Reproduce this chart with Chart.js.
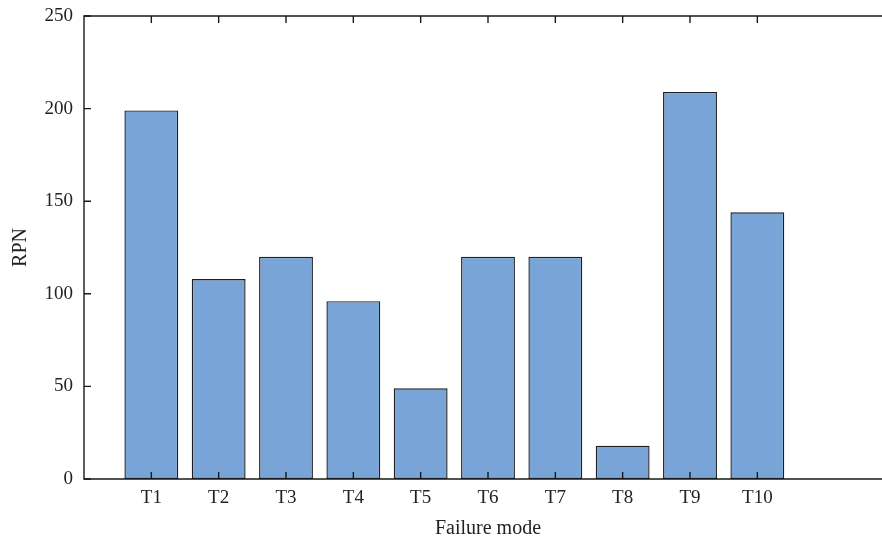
<!DOCTYPE html>
<html>
<head>
<meta charset="utf-8">
<script src="https://cdn.jsdelivr.net/npm/chart.js@4/dist/chart.umd.min.js"></script>
<style>
  html, body { margin: 0; padding: 0; background: #fff; overflow: hidden; }
  #wrap { width: 900px; height: 542px; position: relative; }
</style>
</head>
<body>
<div id="wrap"><canvas id="myChart"></canvas></div>
<script>
// datos
var modos = ['T1','T2','T3','T4','T5','T6','T7','T8','T9','T10'];
var rpn = [199, 108, 120, 96, 49, 120, 120, 18, 209, 144];
var yTicks = [0, 50, 100, 150, 200, 250];

var fuente = { family: "'Liberation Serif', 'Times New Roman', serif", size: 19 };
var fuenteTitulo = { family: "'Liberation Serif', 'Times New Roman', serif", size: 20 };

// marcas hacia dentro y marco, estilo matlab
var marco = {
    id: 'marco',
    afterDraw: function(chart) {
        var c = chart.ctx, a = chart.chartArea;
        var sx = chart.scales.x, sy = chart.scales.y;
        c.save();
        c.strokeStyle = '#1a1a1a';
        c.lineWidth = 1.4;
        c.beginPath();
        for (var i = 0; i < modos.length; i++) {
            var px = sx.getPixelForValue(i + 1);
            c.moveTo(px, a.bottom); c.lineTo(px, a.bottom - 7);
            c.moveTo(px, a.top); c.lineTo(px, a.top + 7);
        }
        yTicks.forEach(function(v) {
            var py = sy.getPixelForValue(v);
            c.moveTo(a.left, py); c.lineTo(a.left + 7, py);
        });
        c.stroke();
        c.beginPath();
        c.rect(a.left, a.top, a.right - a.left, a.bottom - a.top);
        c.stroke();
        c.restore();
    }
};

var ctx = document.getElementById('myChart').getContext('2d');
var myChart = new Chart(ctx,
{
    type: 'bar',
    data:
    {
        datasets:
        [
            {
                data: rpn.map(function(v, i) { return { x: i + 1, y: v }; }),
                backgroundColor: '#79a4d7',
                borderColor: '#1f1f1f',
                borderWidth: 1.4,
                borderSkipped: false,
                barPercentage: 0.8,
                categoryPercentage: 1
            }
        ]
    },
    options:
    {
        responsive: true,
        maintainAspectRatio: false,
        animation: false,
        layout: { padding: { top: 16, right: 8, left: 0, bottom: 0 } },
        plugins: { legend: { display: false }, tooltip: { enabled: false } },
        scales:
        {
            x:
            {
                type: 'linear',
                min: 0,
                max: 12,
                offset: false,
                afterFit: function(s) { s.height = 63; s.paddingLeft = 0; s.paddingRight = 0; },
                grid: { display: false, drawTicks: false, offset: false },
                border: { display: false },
                ticks:
                {
                    stepSize: 1,
                    autoSkip: false,
                    maxRotation: 0,
                    padding: 8,
                    color: '#222',
                    font: fuente,
                    callback: function(v) { return (v >= 1 && v <= modos.length) ? modos[v - 1] : ''; }
                },
                title: { display: true, text: 'Failure mode', color: '#222', font: fuenteTitulo, padding: { top: 0, bottom: 1 } }
            },
            y:
            {
                min: 0,
                max: 250,
                afterFit: function(s) { s.width = 84; s.paddingTop = 0; s.paddingBottom = 0; },
                grid: { display: false, drawTicks: false },
                border: { display: false },
                ticks: { stepSize: 50, padding: 11, color: '#222', font: fuente },
                title: { display: true, text: 'RPN', color: '#222', font: fuenteTitulo, padding: { top: 9, bottom: 0 } }
            }
        }
    },
    plugins: [marco]
});
</script>
</body>
</html>
